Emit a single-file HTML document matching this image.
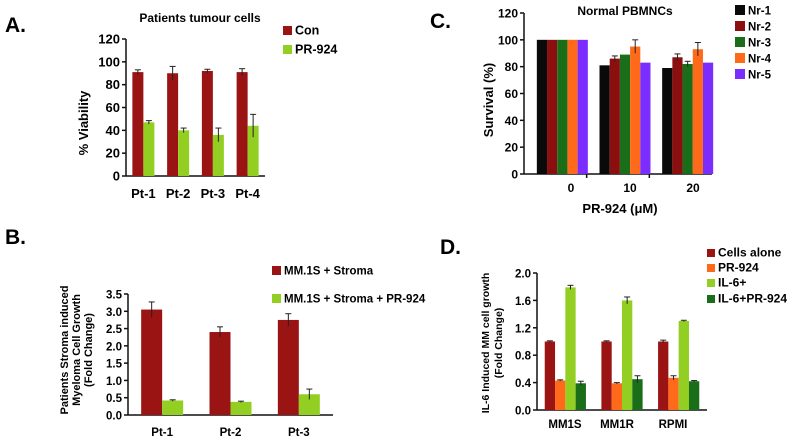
<!DOCTYPE html>
<html><head><meta charset="utf-8"><style>
html,body{margin:0;padding:0;background:#fff;}
svg{display:block;font-family:"Liberation Sans",Arial,sans-serif;font-weight:bold;}
</style></head><body>
<svg id="fig" width="800" height="439" viewBox="0 0 800 439" xmlns="http://www.w3.org/2000/svg">
<text x="5" y="32" font-size="21">A.</text>
<text x="200" y="22" font-size="12" text-anchor="middle">Patients tumour cells</text>
<text transform="translate(88,123) rotate(-90)" font-size="13" text-anchor="middle">% Viability</text>
<text x="430" y="28" font-size="21">C.</text>
<text x="625" y="15" font-size="12" text-anchor="middle">Normal PBMNCs</text>
<text transform="translate(493,100) rotate(-90)" font-size="13" text-anchor="middle">Survival (%)</text>
<text x="620" y="213" font-size="13" text-anchor="middle">PR-924 (μM)</text>
<text x="5" y="244" font-size="21">B.</text>
<g font-size="11" text-anchor="middle">
<text transform="translate(68,350) rotate(-90)">Patients Stroma induced</text>
<text transform="translate(80,350) rotate(-90)">Myeloma Cell Growth</text>
<text transform="translate(92,350) rotate(-90)">(Fold Change)</text>
</g>
<text x="440" y="254" font-size="21">D.</text>
<g font-size="10.5" text-anchor="middle">
<text transform="translate(489,343) rotate(-90)">IL-6 Induced MM cell growth</text>
<text transform="translate(502,343) rotate(-90)">(Fold Change)</text>
</g>
<g id="plots"></g>
</svg>
<script>
// Panel A data
const aCats = ["Pt-1","Pt-2","Pt-3","Pt-4"];
const aCon = [91,90,92,91];
const aConErr = [2,6,1.5,3];
const aPR = [47,40,36,44];
const aPRErr = [1.5,2,6,10];
const aTicks = [0,20,40,60,80,100,120];
// Panel B data
const bCats = ["Pt-1","Pt-2","Pt-3"];
const bStroma = [3.05,2.4,2.75];
const bStromaErr = [0.22,0.15,0.18];
const bPR = [0.42,0.38,0.6];
const bPRErr = [0.02,0.02,0.15];
const bTicks = ["0.0","0.5","1.0","1.5","2.0","2.5","3.0","3.5"];
// Panel C data
const cCats = ["0","10","20"];
const cNr1 = [100,81,79];
const cNr2 = [100,86,87];
const cNr3 = [100,89,82];
const cNr4 = [100,95,93];
const cNr5 = [100,83,83];
const cErr2 = [0,2,2.5];
const cErr3 = [0,0,2];
const cErr4 = [0,5,5];
const cTicks = [0,20,40,60,80,100,120];
// Panel D data
const dCats = ["MM1S","MM1R","RPMI"];
const dAlone = [1.0,1.0,1.0];
const dPR = [0.43,0.39,0.47];
const dIL6 = [1.79,1.6,1.3];
const dIL6PR = [0.39,0.45,0.42];
const dErrAlone = [0.01,0.01,0.02];
const dErrPR = [0.01,0.01,0.03];
const dErrIL6 = [0.03,0.05,0.01];
const dErrIL6PR = [0.03,0.05,0.01];
const dTicks = ["0.0","0.4","0.8","1.2","1.6","2.0"];

const NS="http://www.w3.org/2000/svg";
const root=document.getElementById('plots');
function mk(tag,attrs,parent){const e=document.createElementNS(NS,tag);for(const k in attrs)e.setAttribute(k,attrs[k]);(parent||root).appendChild(e);return e;}

function panel(o){
  const g=mk('g',{});
  
  
  const y=v=>o.y0-(v-o.vmin)/(o.vmax-o.vmin)*(o.y0-o.y1);
  const ax=mk('line',{x1:o.x0,y1:o.y0,x2:o.x1,y2:o.y0,stroke:'#111','stroke-width':1.5},g);
  
  
  const ay=mk('line',{x1:o.x0,y1:o.y0,x2:o.x0,y2:o.y1,stroke:'#111','stroke-width':1.5},g);
  
  
  o.ticks.forEach(t=>{
    const yy=y(parseFloat(t));
    mk('line',{x1:o.x0-4,y1:yy,x2:o.x0,y2:yy,stroke:'#111','stroke-width':1.5},g);
    const tx=mk('text',{x:o.x0-6,y:yy+4.5,'font-size':o.tfs,'text-anchor':'end'},g);
    tx.textContent=t;
    
    
  });
  const n=o.cats.length, cw=(o.x1-o.x0)/n;
  o.cats.forEach((c,i)=>{
    const cx=o.x0+cw*(i+0.5)+(o.gshift||0);
    const gw=o.bw*o.series.length;
    o.series.forEach((s,j)=>{
      const bx=cx-gw/2+j*o.bw, v=s.vals[i];
      const r=mk('rect',{x:bx,y:y(v),width:o.bw,height:o.y0-y(v),fill:s.color},g);
      
      
      if(s.err&&s.err[i]>0){
        const ex=bx+o.bw/2,et=y(v+s.err[i]),eb=y(v-s.err[i]);
        mk('line',{x1:ex,y1:et,x2:ex,y2:eb,stroke:'#222','stroke-width':1},g);
        mk('line',{x1:ex-3,y1:et,x2:ex+3,y2:et,stroke:'#222','stroke-width':1},g);
      }
    });
    if(o.divTicks&&i>0){mk('line',{x1:o.x0+cw*i,y1:o.y0,x2:o.x0+cw*i,y2:o.y0+4,stroke:'#111','stroke-width':1.5},g);}
    const lx=o.labelX?o.labelX[i]:cx;
    const t=mk('text',{x:lx,y:o.y0+o.ldy,'font-size':o.tfs,'text-anchor':'middle'},g);
    t.textContent=c;
    
    
  });
  o.legend.forEach((l,k)=>{
    const r=mk('rect',{x:l.x,y:l.y,width:o.ls,height:o.ls,fill:l.color},g);
    
    
    const t=mk('text',{x:l.x+o.ls+3,y:l.y+o.ls-0.5,'font-size':o.lfs},g);
    t.textContent=l.label;
    
    
  });
}
const RED='#9b1414',LG='#92cf22',OR='#ff6a1a',DG='#1a6e1a';
panel({name:'panel-a-chart',key:'a',x0:126,x1:265,y0:176,y1:39,vmin:0,vmax:120,ticks:aTicks,tfs:13,bw:11,cats:aCats,ldy:22,
  series:[{label:'Con',vals:aCon,err:aConErr,color:RED},{label:'PR-924',vals:aPR,err:aPRErr,color:LG}],
  ls:9,lfs:12.5,legend:[{x:283,y:26,color:RED,label:'Con'},{x:283,y:45,color:LG,label:'PR-924'}]});
panel({name:'panel-b-chart',key:'b',x0:128,x1:333,y0:415,y1:294,vmin:0,vmax:3.5,ticks:bTicks,tfs:11.5,bw:21,cats:bCats,ldy:21,
  series:[{label:'MM.1S + Stroma',vals:bStroma,err:bStromaErr,color:RED},{label:'MM.1S + Stroma + PR-924',vals:bPR,err:bPRErr,color:LG}],
  ls:9,lfs:11.5,legend:[{x:272,y:266,color:RED,label:'MM.1S + Stroma'},{x:272,y:294,color:LG,label:'MM.1S + Stroma + PR-924'}]});
panel({name:'panel-c-chart',key:'c',x0:524,x1:712,y0:174,y1:13,vmin:0,vmax:120,ticks:cTicks,tfs:12,bw:10.2,cats:cCats,ldy:18,divTicks:true,gshift:7,labelX:[571,630,693],
  series:[{label:'Nr-1',vals:cNr1,color:'#0a0a0a'},{label:'Nr-2',vals:cNr2,err:cErr2,color:'#8b0f0f'},{label:'Nr-3',vals:cNr3,err:cErr3,color:DG},{label:'Nr-4',vals:cNr4,err:cErr4,color:OR},{label:'Nr-5',vals:cNr5,color:'#7b2cff'}],
  ls:10,lfs:11.5,legend:[{x:735,y:5,color:'#0a0a0a',label:'Nr-1'},{x:735,y:21,color:'#8b0f0f',label:'Nr-2'},{x:735,y:37,color:DG,label:'Nr-3'},{x:735,y:53,color:OR,label:'Nr-4'},{x:735,y:69,color:'#7b2cff',label:'Nr-5'}]});
panel({name:'panel-d-chart',key:'d',x0:537,x1:707,y0:410,y1:273,vmin:0,vmax:2.0,ticks:dTicks,tfs:11.5,bw:10.3,cats:dCats,ldy:18,labelX:[565,617,673],
  series:[{label:'Cells alone',vals:dAlone,err:dErrAlone,color:RED},{label:'PR-924',vals:dPR,err:dErrPR,color:OR},{label:'IL-6+',vals:dIL6,err:dErrIL6,color:LG},{label:'IL-6+PR-924',vals:dIL6PR,err:dErrIL6PR,color:DG}],
  ls:8,lfs:12,legend:[{x:707,y:249,color:RED,label:' Cells alone'},{x:707,y:264,color:OR,label:'PR-924'},{x:707,y:279,color:LG,label:'IL-6+'},{x:707,y:295,color:DG,label:'IL-6+PR-924'}]});
</script>
</body></html>
